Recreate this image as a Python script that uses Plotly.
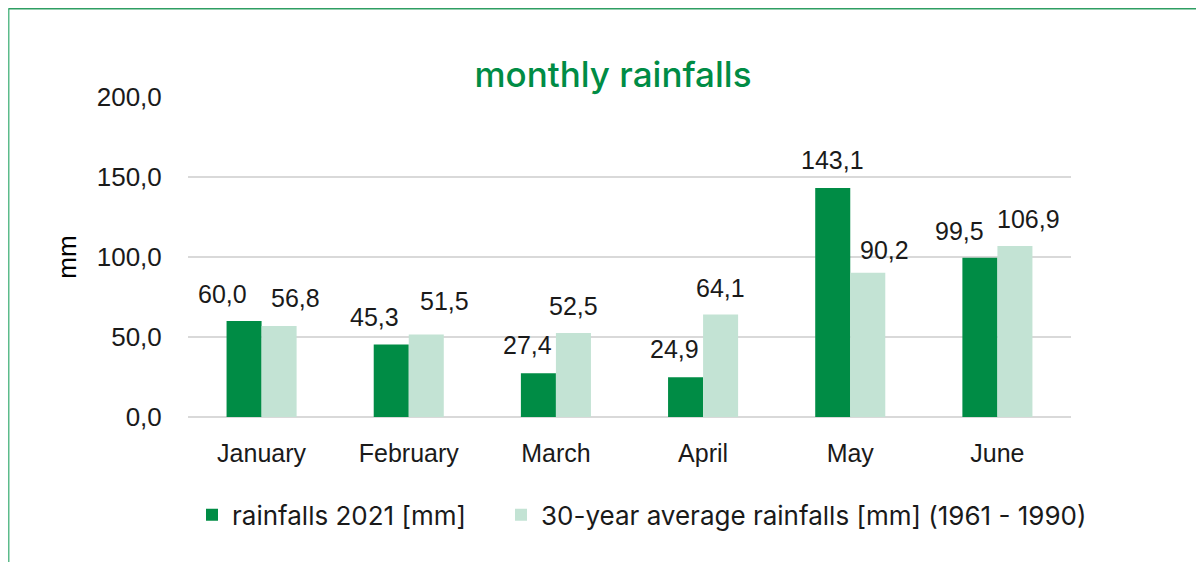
import plotly.graph_objects as go

months = ["January", "February", "March", "April", "May", "June"]
rain_2021 = [60.0, 45.3, 27.4, 24.9, 143.1, 99.5]
rain_avg = [56.8, 51.5, 52.5, 64.1, 90.2, 106.9]
y_ticks = [0, 50, 100, 150, 200]

name_2021 = "rainfalls 2021 [mm]"
name_avg = "30-year average rainfalls [mm] (1961 - 1990)"

# label styling offsets (pixels) as in the reference's manually placed labels
dx_2021 = [-39, -34, -28, -29, -18, -38]
dy_2021 = [27, 28, 28, 28, 28, 27]
dx_avg = [34, 36, 18, 17, 34, 31]
dy_avg = [28, 34, 27, 26, 23, 27]

DARK = "#008C45"
LIGHT = "#C3E3D4"
NUM_FONT = "Liberation Sans"
TXT_FONT = "Inter"

W, H = 1204, 562
L, R, T, B = 180, 141, 89, 153
PW, PH = W - L - R, H - T - B


def fmt(v):
    return f"{v:.1f}".replace(".", ",")


fig = go.Figure()
fig.add_trace(go.Bar(x=months, y=rain_2021, name=name_2021, marker_color=DARK,
                     marker_line_width=0, legend="legend"))
fig.add_trace(go.Bar(x=months, y=rain_avg, name=name_avg, marker_color=LIGHT,
                     marker_line_width=0, legend="legend2"))

annotations = []
for vals, dxs, dys in ((rain_2021, dx_2021, dy_2021), (rain_avg, dx_avg, dy_avg)):
    for m, v, dx, dy in zip(months, vals, dxs, dys):
        annotations.append(dict(x=m, y=v, xref="x", yref="y", text=fmt(v),
                                showarrow=False, xshift=dx, yshift=dy,
                                xanchor="center", yanchor="middle",
                                font=dict(family=NUM_FONT, size=25, color="#1a1a1a")))

bx = (0.5 - L) / PW
by = (H - B - 0.5) / PH
shapes = [
    dict(type="line", xref="paper", yref="paper", x0=bx, x1=bx,
         y0=-0.6, y1=by, line=dict(color="#5dbb8b", width=2)),
    dict(type="line", xref="paper", yref="paper", x0=bx, x1=1.3,
         y0=by, y1=by, line=dict(color="#2e9e62", width=2)),
]

leg_font = dict(family=TXT_FONT, size=26, color="#1a1a1a")
fig.update_layout(
    width=W, height=H,
    margin=dict(l=L, r=R, t=T, b=B),
    paper_bgcolor="white", plot_bgcolor="white",
    separators=", ",
    barmode="group", bargap=0.524, bargroupgap=0,
    title=dict(text="monthly rainfalls", x=605 / W, xanchor="center",
               y=1 - 67 / H, yanchor="middle",
               font=dict(family=TXT_FONT, size=35, weight=500, color="#008C45")),
    showlegend=True,
    legend=dict(orientation="h", x=(184 - L) / PW, xanchor="left", y=-0.306,
                yanchor="middle", font=leg_font, bgcolor="rgba(0,0,0,0)"),
    legend2=dict(orientation="h", x=(493 - L) / PW, xanchor="left", y=-0.306,
                 yanchor="middle", font=leg_font, bgcolor="rgba(0,0,0,0)"),
    annotations=annotations,
    shapes=shapes,
)
fig.update_xaxes(showgrid=False, showline=False, zeroline=False,
                 ticks="outside", ticklen=14, tickcolor="rgba(0,0,0,0)",
                 tickfont=dict(family=NUM_FONT, size=25, color="#1a1a1a"))
fig.update_yaxes(range=[0, 200], tickvals=y_ticks, tickformat=".1f",
                 showgrid=True, gridcolor="#d9d9d9", gridwidth=1.5,
                 zeroline=True, zerolinecolor="#d9d9d9", zerolinewidth=1.5,
                 showline=False, ticks="outside", ticklen=20,
                 tickcolor="rgba(0,0,0,0)",
                 tickfont=dict(family=NUM_FONT, size=26, color="#1a1a1a"),
                 title=dict(text="mm", standoff=12,
                            font=dict(family=NUM_FONT, size=26, color="#000000")))

fig.write_html("out.html")
